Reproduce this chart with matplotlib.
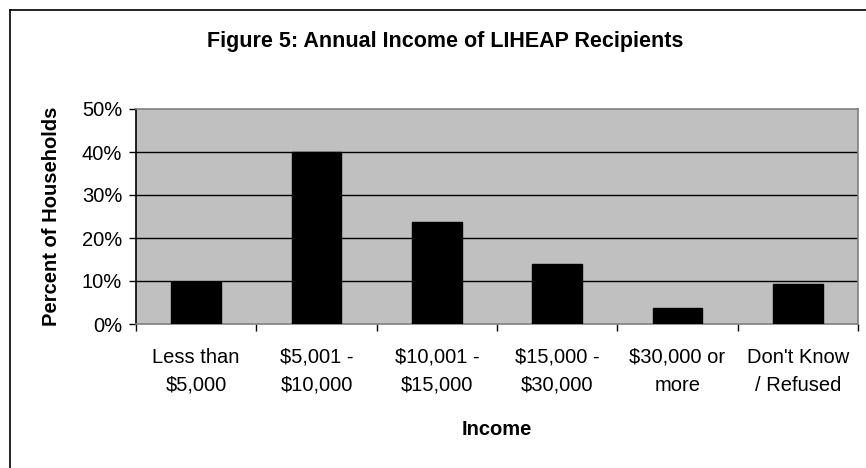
import matplotlib.pyplot as plt
import numpy as np
from matplotlib.lines import Line2D

# data
categories = ["Less than\n$5,000", "$5,001 -\n$10,000", "$10,001 -\n$15,000",
              "$15,000 -\n$30,000", "$30,000 or\nmore", "Don't Know\n/ Refused"]
percents = [9.8, 40.0, 23.7, 14.0, 3.8, 9.3]
y_ticks = [0, 10, 20, 30, 40, 50]
y_labels = ["0%", "10%", "20%", "30%", "40%", "50%"]

plt.rcParams["font.family"] = ["Liberation Sans", "DejaVu Sans"]

fig = plt.figure(figsize=(8.66, 4.68), dpi=100)
ax = fig.add_axes([136 / 866, 1 - 324 / 468, 722 / 866, 215 / 468])

x = np.arange(len(categories))
ax.set_facecolor("#C0C0C0")
ax.bar(x, percents, width=0.415, color="black", edgecolor="black", zorder=3)

ax.set_xlim(-0.5, len(categories) - 0.5)
ax.set_ylim(0, 50)
ax.set_yticks(y_ticks)
ax.set_yticklabels(y_labels, fontsize=14.5)
for t in y_ticks[1:-1]:
    ax.axhline(t, color="black", linewidth=1, zorder=2)

# category labels centred, ticks on the boundaries
ax.set_xticks(x)
ax.set_xticklabels(categories, fontsize=14.5, linespacing=1.6)
ax.tick_params(axis="x", which="major", length=0, pad=17)
ax.set_xticks(np.arange(-0.5, len(categories)), minor=True)
ax.tick_params(axis="x", which="minor", length=5, width=1, color="black", direction="out")
ax.tick_params(axis="y", length=5, width=1, color="black", direction="out", pad=5)

ax.spines["left"].set_color("black")
ax.spines["bottom"].set_color("#808080")
ax.spines["top"].set_color("#808080")
ax.spines["right"].set_color("#808080")
for s in ax.spines.values():
    s.set_linewidth(1.2)

ax.set_xlabel("Income", fontsize=14.5, fontweight="bold", labelpad=18)
ax.set_ylabel("Percent of Households", fontsize=14.5, fontweight="bold", labelpad=15)

fig.text(445 / 866, 1 - 47 / 468, "Figure 5: Annual Income of LIHEAP Recipients",
         ha="center", va="baseline", fontsize=15.5, fontweight="bold")

# chart-area border (left and top visible in the crop)
fig.add_artist(Line2D([10 / 866, 10 / 866], [0, 1 - 10 / 468], transform=fig.transFigure,
                      color="black", linewidth=1.2))
fig.add_artist(Line2D([10 / 866, 1], [1 - 10 / 468, 1 - 10 / 468], transform=fig.transFigure,
                      color="black", linewidth=1.2))

fig.savefig("out.png", dpi=100)
